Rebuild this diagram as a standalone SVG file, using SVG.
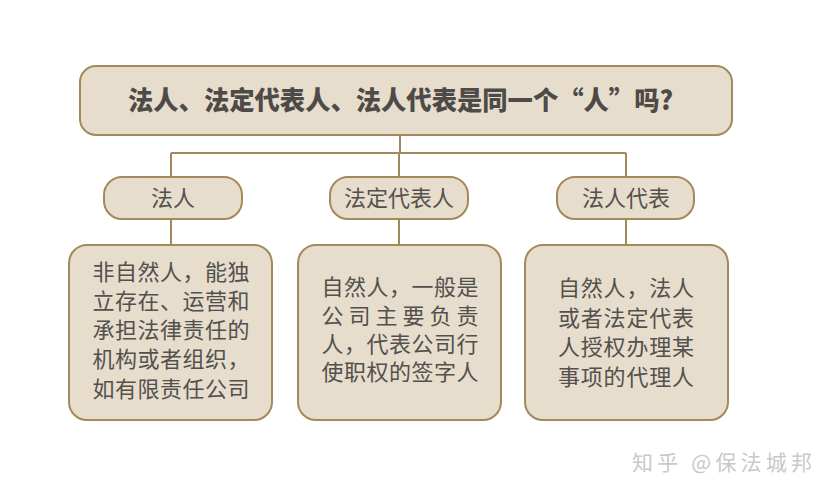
<svg xmlns="http://www.w3.org/2000/svg" width="831" height="496" viewBox="0 0 831 496">
<style>
.box{fill:#e6ddcc;stroke:#a38a5c;stroke-width:2}
.ln{stroke:#a38a5c;stroke-width:2;fill:none}
.t{font-family:"Liberation Sans","Noto Sans CJK SC",sans-serif;fill:#53504d;font-size:22px;text-anchor:middle}
.title{font-family:"Noto Sans CJK SC",sans-serif;font-weight:900;fill:#4e4a47;font-size:26px}
.wm{font-family:"Noto Sans CJK SC",sans-serif;fill:#c9c9c9;font-size:21px}
</style>
<rect width="831" height="496" fill="#ffffff"/>
<g id="connectors">
<path class="ln" d="M400 135V153M171 153H626M171 153V177M399 153V177M626 153V177M171 219V245M399 219V245M626 219V245"/>
</g>
<g id="title">
<rect class="box" x="80" y="66" width="652" height="69" rx="16"/>
<text class="title" x="128" y="110" textLength="545" lengthAdjust="spacingAndGlyphs">法人、法定代表人、法人代表是同一个“人”吗?</text>
</g>
<g id="pill-faren">
<rect class="box" x="104" y="177" width="138" height="42" rx="18"/>
<text class="t" x="173" y="206">法人</text>
</g>
<g id="pill-fading">
<rect class="box" x="330" y="177" width="138" height="42" rx="18"/>
<text class="t" x="399" y="206">法定代表人</text>
</g>
<g id="pill-daibiao">
<rect class="box" x="557" y="177" width="137" height="42" rx="18"/>
<text class="t" x="626" y="206">法人代表</text>
</g>
<g id="box-faren">
<rect class="box" x="69" y="245" width="203" height="175" rx="18"/>
<text class="t" x="171" y="280" textLength="157">非自然人，能独</text>
<text class="t" x="171" y="309" textLength="157">立存在、运营和</text>
<text class="t" x="171" y="338" textLength="157">承担法律责任的</text>
<text class="t" x="171" y="367" textLength="157">机构或者组织，</text>
<text class="t" x="171" y="397" textLength="157">如有限责任公司</text>
</g>
<g id="box-fading">
<rect class="box" x="298" y="245" width="203" height="175" rx="18"/>
<text class="t" x="400" y="295" textLength="157">自然人，一般是</text>
<text class="t" x="400" y="324" textLength="157">公司主要负责</text>
<text class="t" x="400" y="352" textLength="157">人，代表公司行</text>
<text class="t" x="400" y="380" textLength="157">使职权的签字人</text>
</g>
<g id="box-daibiao">
<rect class="box" x="525" y="245" width="203" height="175" rx="18"/>
<text class="t" x="626" y="296" textLength="136">自然人，法人</text>
<text class="t" x="626" y="326" textLength="136">或者法定代表</text>
<text class="t" x="626" y="355" textLength="136">人授权办理某</text>
<text class="t" x="626" y="385" textLength="136">事项的代理人</text>
</g>
<text class="wm" x="632" y="470" textLength="180">知乎 @保法城邦</text>
</svg>
